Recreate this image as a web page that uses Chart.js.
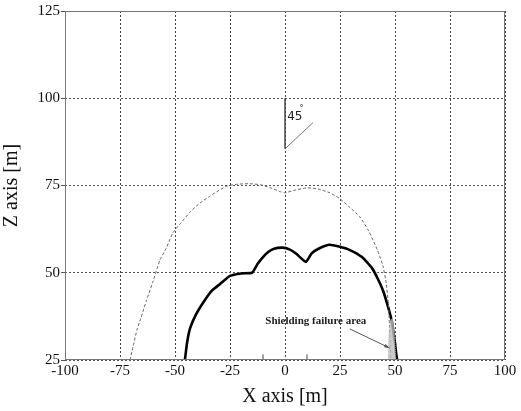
<!DOCTYPE html>
<html><head><meta charset="utf-8">
<script src="https://cdn.jsdelivr.net/npm/chart.js@4/dist/chart.umd.min.js"></script>
<style>html,body{margin:0;padding:0;background:#fff}#wrap{width:521px;height:411px}</style>
</head><body><div id="wrap"><canvas id="c" width="521" height="411"></canvas></div>
<script>
const xTicks = [-100,-75,-50,-25,0,25,50,75,100];
const zTicks = [25,50,75,100,125];
const outerX = [-70.5,-69,-67.3,-65.5,-63,-60,-56.8,-54,-51,-47,-43,-38.6,-34,-30,-26,-21,-16,-11,-6,-2,0,4,10,15,20,24.5,29,34,38,42,44.5,46,47,47.5,47.8,48];
const outerZ = [25,29,33.6,37,42,47.5,53.7,57,61.4,64.5,67.5,70,72,73.6,74.9,75.4,75.5,75.2,74.2,73.2,72.9,73.6,74.3,74,73,71.4,69,66,62,56.5,52,47,41,35,30,25];
const innerX = [-45.5,-44.5,-43.2,-40.5,-36.4,-33,-29.5,-25,-20,-15,-12.5,-10,-7.5,-5,-1,2,5,9.5,12,15,20,24.5,29.5,35,39.5,42,44.5,46.5,48.6,49.5,50,50.5,51];
const innerZ = [25,30,34,38,42.2,45,46.8,49.1,49.8,50,52.5,54.5,56,56.9,57.2,56.7,55.5,53.1,55.5,56.8,58,57.5,56.5,54.5,51.4,48.5,45,41,36,32,29.9,27,25];
const areaX = [46.9,47.2,48.0,49.0,49.8,50.4,47.3];
const areaZ = [25,32,36.5,37,32,25,25];
const angleX = [0,0,12.7];
const angleZ = [100,85.5,93];
const rodX = [-10,10];
const rodZ = [25,26.6];
const arrowX = [29.5,47.7];
const arrowZ = [33.9,28.4];

const pts = (xs,zs)=>xs.map((x,i)=>({x:x,y:zs[i]}));
const serif = "'Liberation Serif','DejaVu Serif',serif";

const overlay = {
  id:'overlay',
  afterDatasetsDraw(chart){
    const {ctx, chartArea:a, scales:{x,y}} = chart;
    ctx.save();
    ctx.strokeStyle='#777'; ctx.lineWidth=1;
    ctx.strokeRect(a.left+0.5,a.top+0.5,a.right-a.left-1,a.bottom-a.top-1);
    const x1=x.getPixelForValue(arrowX[0]), y1=y.getPixelForValue(arrowZ[0]);
    const x2=x.getPixelForValue(arrowX[1]), y2=y.getPixelForValue(arrowZ[1]);
    const ang=Math.atan2(y2-y1,x2-x1);
    ctx.fillStyle='#555';
    ctx.beginPath();
    ctx.moveTo(x2,y2);
    ctx.lineTo(x2-6*Math.cos(ang-0.3),y2-6*Math.sin(ang-0.3));
    ctx.lineTo(x2-6*Math.cos(ang+0.3),y2-6*Math.sin(ang+0.3));
    ctx.closePath(); ctx.fill();
    ctx.fillStyle='#222';
    ctx.font="bold 11px "+serif;
    ctx.textAlign='center'; ctx.textBaseline='middle';
    ctx.fillText('Shielding failure area', x.getPixelForValue(14), y.getPixelForValue(36.2));
    ctx.font="12px 'DejaVu Sans',sans-serif";
    ctx.textAlign='left';
    ctx.fillText('45', x.getPixelForValue(1.0), y.getPixelForValue(94.8));
    ctx.font="8px 'DejaVu Sans',sans-serif";
    ctx.fillText('°', x.getPixelForValue(6.6), y.getPixelForValue(97));
    ctx.restore();
  }
};

new Chart(document.getElementById('c'),{
  type:'scatter',
  data:{datasets:[
    {data:pts(areaX,areaZ),showLine:true,fill:'shape',backgroundColor:'rgba(190,190,190,0.8)',borderColor:'rgba(180,180,180,0.7)',borderWidth:1,borderDash:[1,1],pointRadius:0,tension:0},
    {data:pts(outerX,outerZ),showLine:true,borderColor:'#666',borderWidth:1,borderDash:[3,2],pointRadius:0,tension:0.2},
    {data:pts(innerX,innerZ),showLine:true,borderColor:'#000',borderWidth:2.6,pointRadius:0,tension:0.15},
    {data:pts(angleX.slice(0,2),angleZ.slice(0,2)),showLine:true,borderColor:'#333',borderWidth:1.3,pointRadius:0},
    {data:pts(angleX.slice(1),angleZ.slice(1)),showLine:true,borderColor:'#777',borderWidth:1,pointRadius:0},
    {data:[{x:rodX[0],y:rodZ[0]},{x:rodX[0],y:rodZ[1]}],showLine:true,borderColor:'#444',borderWidth:1,pointRadius:0},
    {data:[{x:rodX[1],y:rodZ[0]},{x:rodX[1],y:rodZ[1]}],showLine:true,borderColor:'#444',borderWidth:1,pointRadius:0},
    {data:pts(arrowX,arrowZ),showLine:true,borderColor:'#555',borderWidth:1,pointRadius:0}
  ]},
  options:{
    responsive:false,animation:false,
    layout:{padding:{left:0,right:16,top:11,bottom:0}},
    plugins:{legend:{display:false},tooltip:{enabled:false}},
    scales:{
      x:{type:'linear',min:-100,max:100,
        afterBuildTicks(s){s.ticks=xTicks.map(v=>({value:v}));},
        afterFit(s){s.height=51;},
        grid:{color:'#444',lineWidth:1,tickLength:4,drawTicks:false},
        border:{display:false,dash:[2,2]},
        ticks:{color:'#111',font:{family:serif,size:15},padding:2,maxRotation:0,autoSkip:false},
        title:{display:true,text:'X axis [m]',color:'#111',font:{family:serif,size:20},padding:{top:0,bottom:2}}
      },
      y:{type:'linear',min:25,max:125,
        afterBuildTicks(s){s.ticks=zTicks.map(v=>({value:v}));},
        afterFit(s){s.width=65;},
        grid:{color:'#555',lineWidth:1,tickLength:4,drawTicks:true,tickBorderDash:[]},
        border:{display:false,dash:[2,2]},
        ticks:{color:'#111',font:{family:serif,size:15},padding:1,autoSkip:false},
        title:{display:true,text:'Z axis [m]',color:'#111',font:{family:serif,size:20},padding:{top:0,bottom:4}}
      }
    }
  },
  plugins:[overlay]
});
</script></body></html>
